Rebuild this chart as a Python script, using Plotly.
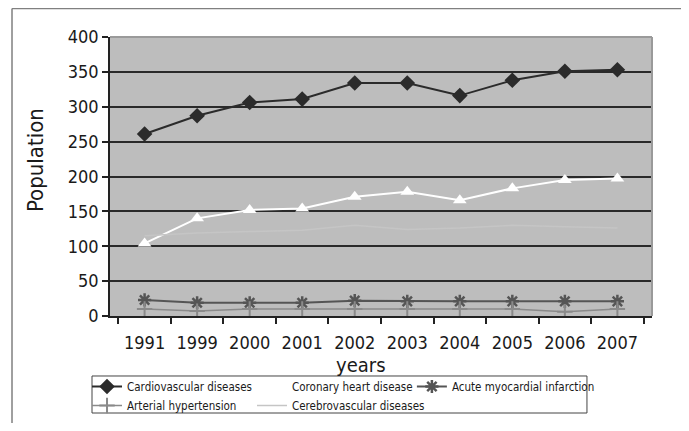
import plotly.graph_objects as go

years = ["1991", "1999", "2000", "2001", "2002", "2003", "2004", "2005", "2006", "2007"]
cardiovascular = [261, 287, 306, 311, 334, 334, 316, 338, 351, 353]
coronary = [104, 140, 152, 154, 171, 178, 166, 183, 195, 197]
acute_mi = [23, 19, 19, 19, 22, 21, 21, 21, 21, 21]
hypertension = [10, 7, 10, 10, 10, 10, 10, 10, 6, 10]
cerebrovascular = [115, 119, 121, 123, 130, 124, 126, 130, 128, 126]
y_ticks = [0, 50, 100, 150, 200, 250, 300, 350, 400]

FONT = "Liberation Sans Narrow, DejaVu Sans Condensed, DejaVu Sans, sans-serif"

fig = go.Figure()
fig.add_trace(go.Scatter(x=years, y=cardiovascular, name="Cardiovascular diseases", mode="lines+markers",
                         legend="legend",
                         line=dict(color="#2b2b2b", width=2),
                         marker=dict(symbol="diamond", size=12, color="#2b2b2b")))
fig.add_trace(go.Scatter(x=years, y=coronary, name="Coronary heart disease", mode="lines+markers",
                         legend="legend2",
                         line=dict(color="#ffffff", width=2),
                         marker=dict(symbol="triangle-up", size=12, color="#ffffff")))
fig.add_trace(go.Scatter(x=years, y=acute_mi, name="Acute myocardial infarction", mode="lines+markers",
                         legend="legend3",
                         line=dict(color="#555555", width=2),
                         marker=dict(symbol="asterisk-open", size=11, line=dict(color="#555555", width=2.5))))
fig.add_trace(go.Scatter(x=years, y=hypertension, name="Arterial hypertension", mode="lines+markers",
                         legend="legend",
                         line=dict(color="#8a8a8a", width=1.5),
                         marker=dict(symbol="cross-thin-open", size=11, line=dict(color="#8a8a8a", width=2))))
fig.add_trace(go.Scatter(x=years, y=cerebrovascular, name="Cerebrovascular diseases", mode="lines",
                         legend="legend2",
                         line=dict(color="#c5c5c5", width=1.5)))

# legends positioned in container coordinates so they do not push the margins
leg_common = dict(orientation="v", yref="container", y=0.1229, yanchor="top", xanchor="left",
                  borderwidth=0, bgcolor="rgba(0,0,0,0)", itemwidth=30, tracegroupgap=0,
                  font=dict(family=FONT, size=11.5, color="#1a1a1a"))

# page body adds an 8px margin on every side: figure is 16px smaller than the window
fig.update_layout(
    width=673, height=415,
    margin=dict(l=102, r=29, t=29, b=107),
    paper_bgcolor="white",
    plot_bgcolor="#bdbdbd",
    font=dict(family=FONT, color="#1a1a1a", size=18),
    showlegend=True,
    legend=dict(x=-0.0424, **leg_common),
    legend2=dict(x=0.262, **leg_common),
    legend3=dict(x=0.557, **leg_common),
    xaxis=dict(type="category", showgrid=False, showline=True, linecolor="#222222", linewidth=1.5,
               ticks="outside", tickson="boundaries", ticklen=6, tickcolor="#222222", tickwidth=1.5,
               tickfont=dict(size=18), tickangle=0, ticklabelstandoff=10, zeroline=False,
               automargin=False),
    yaxis=dict(range=[0, 400], tickvals=y_ticks, showgrid=True, gridcolor="#2a2a2a", gridwidth=1.5,
               showline=True, linecolor="#222222", linewidth=1.5, ticks="outside", ticklen=6,
               tickcolor="#222222", tickwidth=1.5, tickfont=dict(size=18), zeroline=False,
               automargin=False),
)

# legend box
fig.add_shape(type="rect", xref="paper", yref="paper", x0=-0.0332, x1=0.880, y0=-0.215, y1=-0.3477,
              line=dict(color="#444444", width=1), fillcolor="white", layer="below")
# plot area top/right border (grey) and outer frame
fig.add_shape(type="line", xref="paper", yref="paper", x0=0, x1=1, y0=1, y1=1,
              line=dict(color="#9a9a9a", width=2), layer="above")
fig.add_shape(type="line", xref="paper", yref="paper", x0=1, x1=1, y0=0, y1=1,
              line=dict(color="#9a9a9a", width=2), layer="above")
fig.add_shape(type="line", xref="paper", yref="paper", x0=-0.1808, x1=1.06, y0=1.102, y1=1.102,
              line=dict(color="#808080", width=1.5))
fig.add_shape(type="line", xref="paper", yref="paper", x0=-0.1808, x1=-0.1808, y0=1.102, y1=-0.40,
              line=dict(color="#808080", width=1.5))

fig.add_annotation(text="years", xref="paper", yref="paper", x=0.464, y=-0.1756,
                   showarrow=False, xanchor="center", yanchor="middle", font=dict(size=20))
fig.add_annotation(text="Population", xref="paper", yref="paper", x=-0.1384, y=0.559,
                   showarrow=False, xanchor="center", yanchor="middle", textangle=-90, font=dict(size=22))

fig.write_html("out.html")
